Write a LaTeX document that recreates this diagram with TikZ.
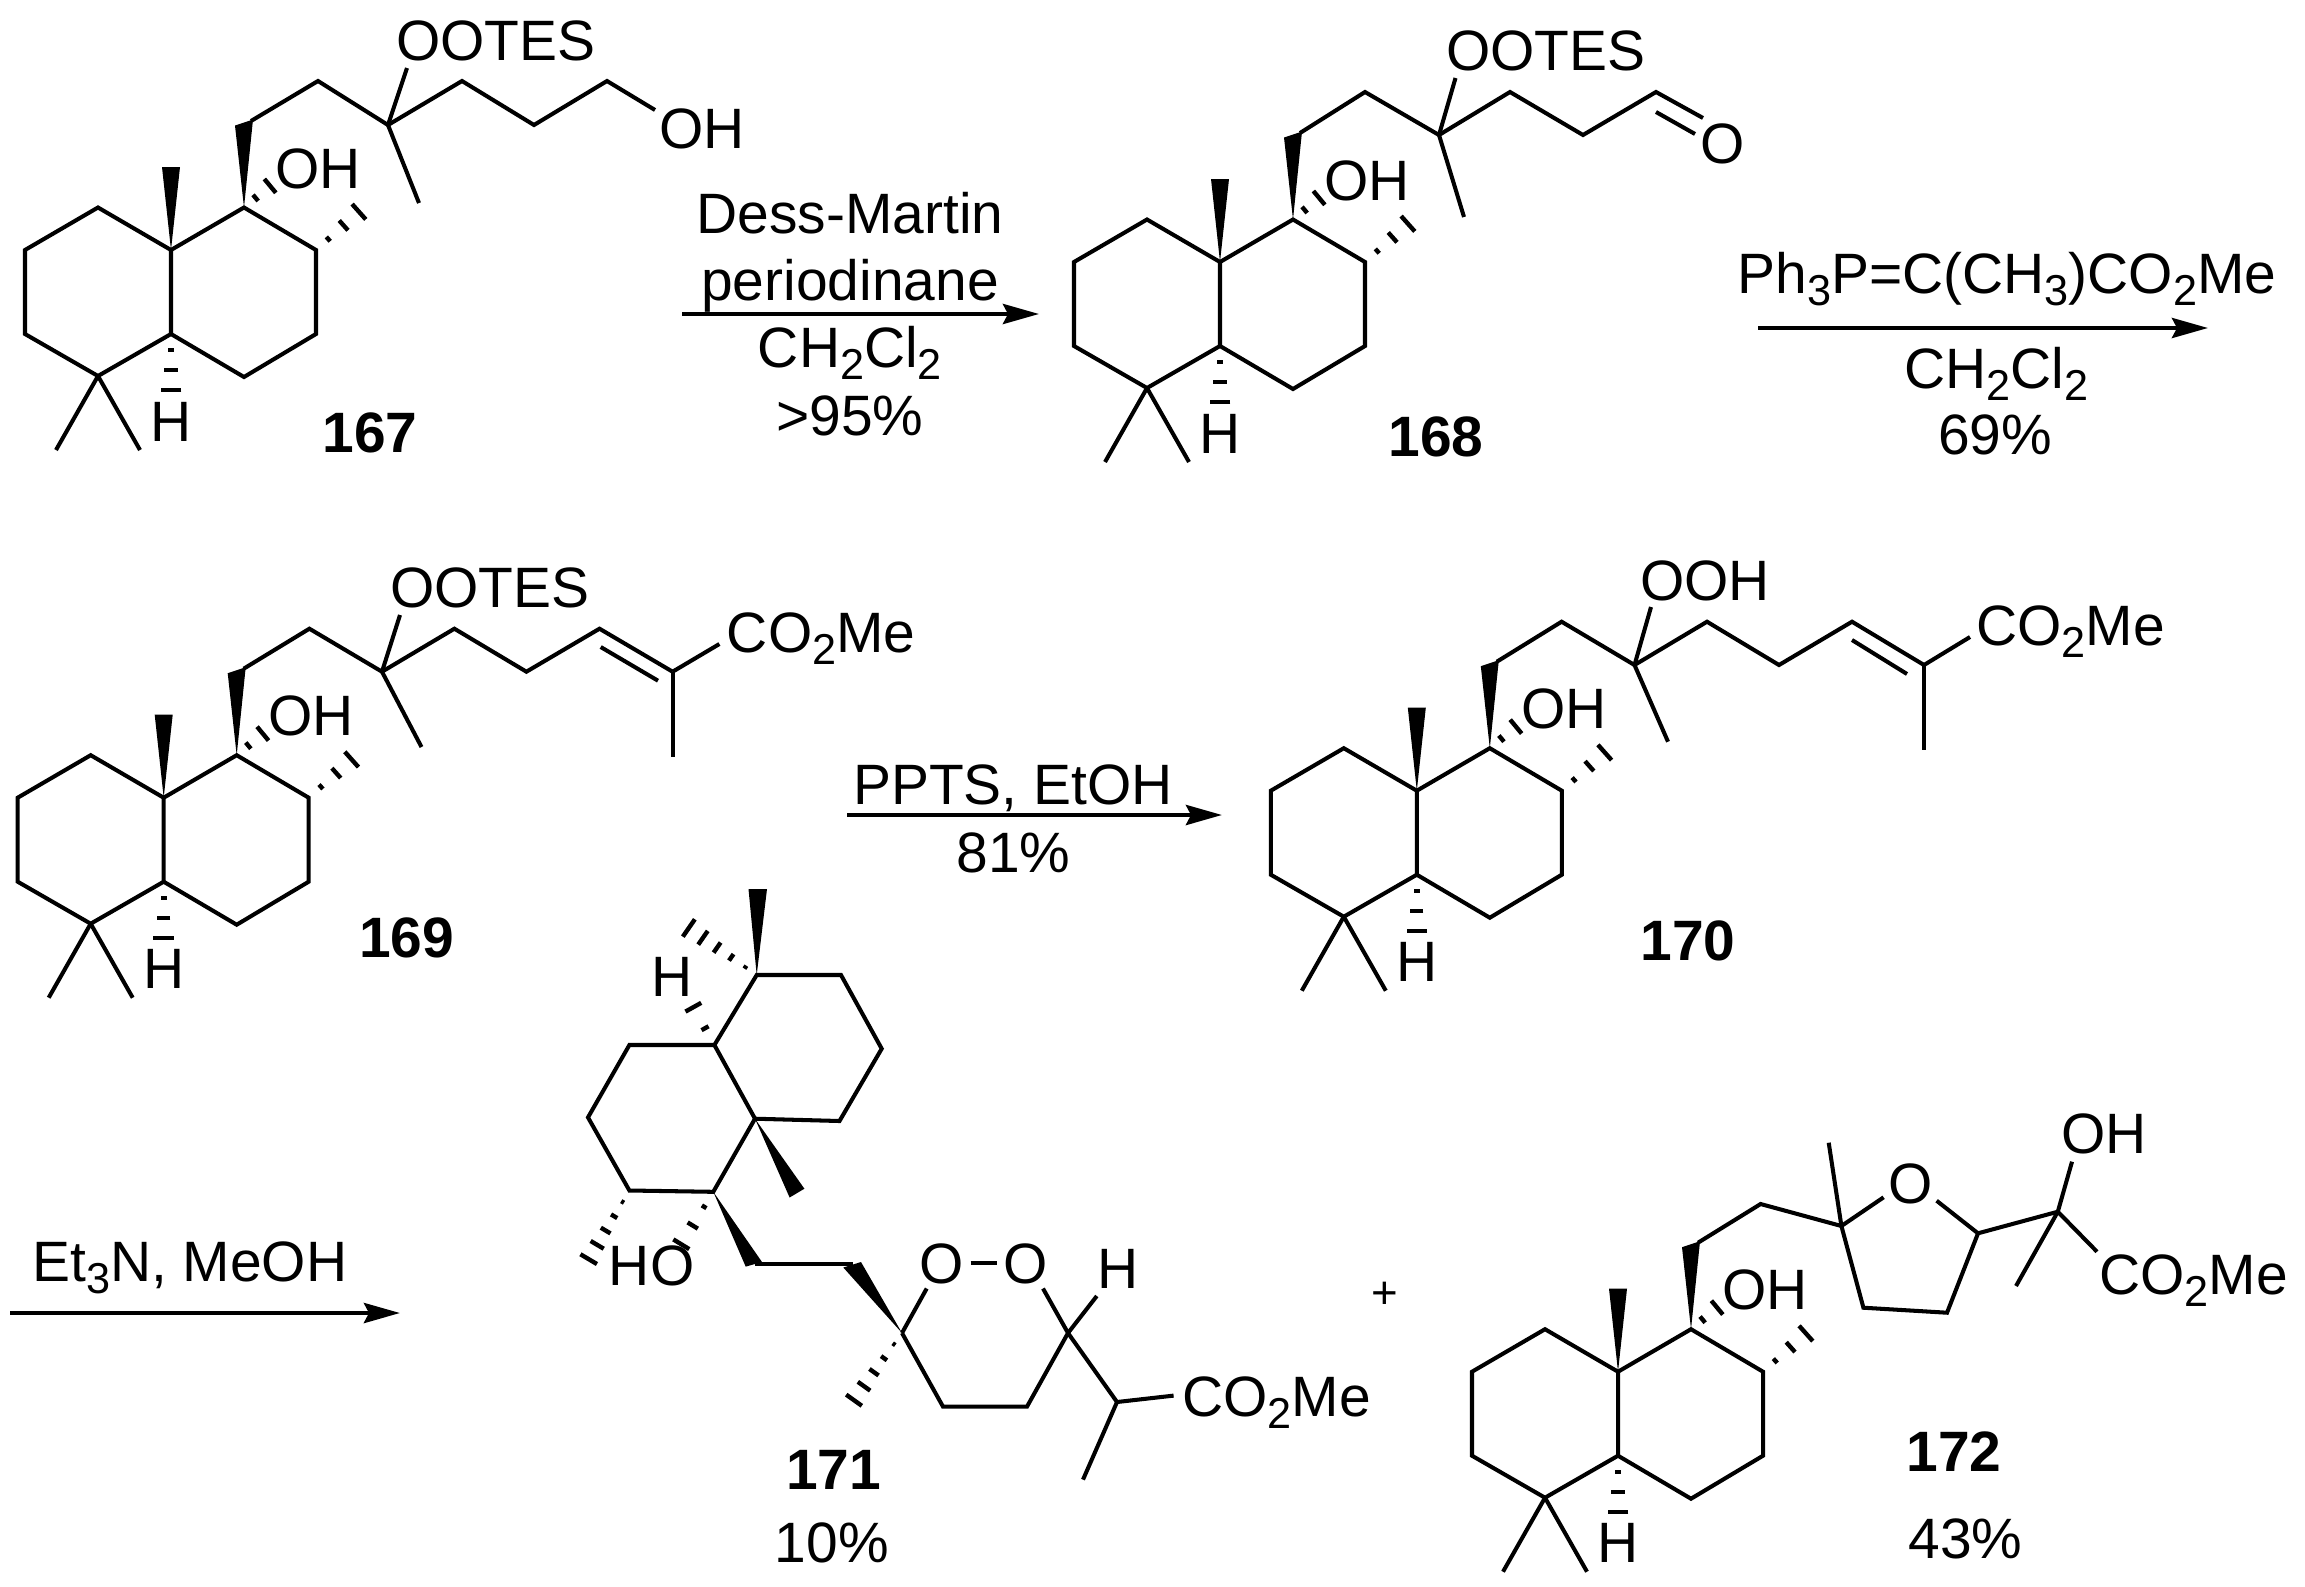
\documentclass[tikz,border=0pt]{standalone}
\usepackage{fontspec}
\setmainfont{Liberation Sans}
\usetikzlibrary{arrows.meta,calc}
\newcommand\sbs[1]{\raisebox{-0.24cm}{\fontsize{24.6}{28}\selectfont #1}}
\tikzset{
    bond/.style={line width=2.3pt},
    hash/.style={line width=2.5pt},
    rxn/.style={line width=2.5pt,->},
    txt/.style={inner sep=0pt,anchor=base,font=\fontsize{32.4}{36}\selectfont},
    txtl/.style={txt,anchor=base west},
    lbl/.style={txt,font=\fontsize{32.4}{36}\selectfont\bfseries},
}
\begin{document}
\begin{tikzpicture}[x=0.02cm,y=-0.02cm,>={Stealth[length=0.72cm,width=0.4cm,inset=0.1cm]}]
    \useasboundingbox (0,0) rectangle (2305,1586);
    \def\hashbond(#1)(#2)#3#4{
        \foreach \nn in {1,...,#3}{
            \pgfmathsetmacro\hs{(\nn-0.2)/#3}
            \pgfmathsetlengthmacro\hw{\hs*#4*0.02cm}
            \draw[hash] ($(#1)!\hs!(#2)!\hw!90:(#2)$)--($(#1)!\hs!(#2)!-\hw!90:(#2)$);
        }}
    \def\decalin(#1,#2)#3{
        \begin{scope}[shift={(#1,#2)}]
            \coordinate (#3c) at (0,0);
            \coordinate (#3d) at (0,84);
            \coordinate (#3e) at (-73,126);
            \coordinate (#3g) at (73,-42.5);
            \coordinate (#3h) at (145,0);
            \coordinate (#3t) at (80,-129);
            \draw[bond] (#3c)--(-73,-42.5)--(-146,0)--(-146,84)--(#3e)--(#3d)--cycle;
            \draw[bond] (#3c)--(#3g)--(#3h)--(145,84)--(73,127)--(#3d);
            \draw[bond] (#3e)--(-115,200);
            \draw[bond] (#3e)--(-31,200);
            \fill (#3c)--(-9,-83)--(9,-83)--cycle;
            \fill (#3g)--(64,-124.5)--(82,-130.5)--cycle;
            \hashbond(#3g)(102,-66.5){2}{10}
            \hashbond(#3h)(191,-41){3}{11}
            \hashbond(#3d)(0,144){3}{11}
            \node[txt] (#3H) at (0,191) {H};
            \node[txtl] (#3OH) at (104,-62) {OH};
        \end{scope}}
    %===========================================
    \decalin(171,250){a}
    \draw[bond] (at)--(318,81)--(388,125) coordinate (aq)--(462,81)--(534,125)--(607,81)--(655,110);
    \draw[bond] (aq)--(407,68);
    \draw[bond] (aq)--(419,203);
    \node[txtl] (aoo) at (396,60) {OOTES};
    \node[txtl] (aoh) at (659,148) {OH};
    \node[lbl] (n167) at (370,452) {167};
    %===========================================
    \coordinate (r1a) at (682,314);
    \coordinate (r1b) at (1039,314);
    \draw[rxn] (r1a)--(r1b);
    \node[txt] (r1t) at (850,233) {Dess-Martin};
    \node[txt] (r1u) at (850,300) {periodinane};
    \node[txt] (r1v) at (850,367) {CH\sbs{2}Cl\sbs{2}};
    \node[txt] (r1w) at (850,435) {>95\%};
    %===========================================
    \decalin(1220,262){b}
    \draw[bond] (bt)--(1365,92)--(1439,135) coordinate (bq)--(1510,92)--(1583,135)--(1656,92) coordinate (bf)--(1703,118);
    \draw[bond] (1656,112)--(1695,134);
    \draw[bond] (bq)--(1455.5,78);
    \draw[bond] (bq)--(1464,217);
    \node[txtl] (boo) at (1446,70) {OOTES};
    \node[txt] (bo) at (1723,163) {O};
    \node[lbl] (n168) at (1436,456) {168};
    %===========================================
    \coordinate (r2a) at (1758,328);
    \coordinate (r2b) at (2208,328);
    \draw[rxn] (r2a)--(r2b);
    \node[txt] (r2t) at (2007,293) {Ph\sbs{3}P=C(CH\sbs{3})CO\sbs{2}Me};
    \node[txt] (r2u) at (1996,388) {CH\sbs{2}Cl\sbs{2}};
    \node[txt] (r2v) at (1995,454) {69\%};
    %===========================================
    \decalin(163.7,797.7){c}
    \draw[bond] (ct)--(309.4,628.7)--(382,671.7) coordinate (cq)--(454.4,628.7)--(526.4,671.7)--(599.5,628.7)--(672.6,671.7) coordinate (cs);
    \draw[bond] (600.7,647)--(658,680.7);
    \draw[bond] (cs)--(719.4,644);
    \draw[bond] (cs)--(672.6,756.7);
    \draw[bond] (cq)--(400,615);
    \draw[bond] (cq)--(421.5,747);
    \node[txtl] (coo) at (390,607) {OOTES};
    \node[txtl] (cco) at (726.6,652) {CO\sbs{2}Me};
    \node[lbl] (n169) at (406.5,957) {169};
    %===========================================
    \coordinate (r3a) at (847,815);
    \coordinate (r3b) at (1222,815);
    \draw[rxn] (r3a)--(r3b);
    \node[txt] (r3t) at (1013,804) {PPTS, EtOH};
    \node[txt] (r3u) at (1013.5,872) {81\%};
    %===========================================
    \decalin(1416.8,790.7){d}
    \draw[bond] (dt)--(1561.6,621.7)--(1634.5,665) coordinate (dq)--(1707,621.7)--(1779,665)--(1852,621.7)--(1924,665) coordinate (ds);
    \draw[bond] (1852,640)--(1907,674);
    \draw[bond] (ds)--(1970,637);
    \draw[bond] (ds)--(1924,750);
    \draw[bond] (dq)--(1651,607);
    \draw[bond] (dq)--(1668,741.7);
    \node[txtl] (doo) at (1640,600.7) {OOH};
    \node[txtl] (dco) at (1976,645.7) {CO\sbs{2}Me};
    \node[lbl] (n170) at (1688,960) {170};
    %===========================================
    \coordinate (r4a) at (10,1313);
    \coordinate (r4b) at (400,1313);
    \draw[rxn] (r4a)--(r4b);
    \node[txtl] (r4t) at (32,1281.7) {Et\sbs{3}N, MeOH};
    %===========================================
    \coordinate (fa) at (756.7,975);
    \coordinate (fb) at (755,1118.7);
    \coordinate (fc) at (714.4,1045);
    \coordinate (fd) at (713.3,1191.8);
    \coordinate (fm) at (629.4,1190.5);
    \coordinate (fe) at (902,1333);
    \coordinate (ff) at (1068,1333);
    \coordinate (fg) at (1117,1402);
    \draw[bond] (fa)--(841,975)--(881.7,1048.7)--(839.5,1121)--(fb)--(fc)--cycle;
    \draw[bond] (fc)--(629.4,1045)--(588,1117.4)--(fm)--(fd)--(fb);
    \fill (fa)--(748.5,889)--(767,889)--cycle;
    \hashbond(fa)(686,926){5}{11}
    \hashbond(fc)(691,1003){2}{10}
    \fill (fb)--(789.6,1197.5)--(804.4,1188.7)--cycle;
    \hashbond(fd)(679,1248){3}{10}
    \hashbond(fm)(587,1262){5}{10}
    \fill (fd)--(745.7,1266.6)--(762,1262)--cycle;
    \draw[bond] (755,1264)--(852.7,1264);
    \fill (fe)--(843.3,1267.5)--(861,1262)--cycle;
    \hashbond(fe)(852,1403){5}{10}
    \draw[bond] (fe)--(926.7,1288.5);
    \draw[bond] (fe)--(943,1406.6)--(1027,1406.6)--(ff)--(1043,1288.5);
    \draw[bond] (ff)--(1096.8,1296);
    \draw[bond] (ff)--(fg)--(1173.6,1395.6);
    \draw[bond] (fg)--(1083,1479.6);
    \node[txt] (fh) at (672,996) {H};
    \node[txtl] (fho) at (608.6,1285.8) {HO};
    \node[txt] (fo) at (942,1283) {O};
    \node[txt] (fp) at (1025.5,1283) {O};
    \draw[bond,shorten >=0.12cm,shorten <=0.12cm] (fo)--(fp);
    \node[txt] (fi) at (1117.6,1288.5) {H};
    \node[txtl] (fco) at (1181.8,1416) {CO\sbs{2}Me};
    \node[lbl] (n171) at (833.5,1489.7) {171};
    \node[txt] (y171) at (831.8,1562.7) {10\%};
    \node[inner sep=0pt,font=\fontsize{26}{26}\selectfont] (pl) at (1385,1295) {+};
    %===========================================
    \decalin(1618,1371.7){e}
    \draw[bond] (et)--(1760.6,1204)--(1841.4,1226) coordinate (eq);
    \draw[bond] (eq)--(1883.6,1197.3);
    \draw[bond] (eq)--(1828.7,1142.7);
    \draw[bond] (eq)--(1863.4,1307.7)--(1947,1312.7)--(1978,1233.3) coordinate (er)--(1936.6,1200.7);
    \draw[bond] (er)--(2057.8,1211.7) coordinate (es);
    \draw[bond] (es)--(2072,1161.7);
    \draw[bond] (es)--(2016,1286);
    \draw[bond] (es)--(2097,1251.7);
    \node[txt] (eo) at (1910.7,1203) {O};
    \node[txtl] (eh) at (2060.7,1153) {OH};
    \node[txtl] (eco) at (2099,1294) {CO\sbs{2}Me};
    \node[lbl] (n172) at (1954,1471.7) {172};
    \node[txt] (y172) at (1965.5,1558) {43\%};
\end{tikzpicture}
\end{document}
